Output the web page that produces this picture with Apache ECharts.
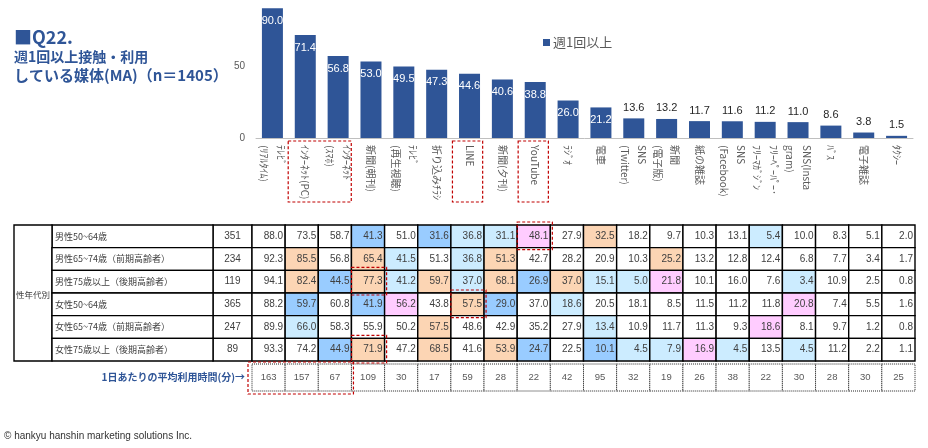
<!DOCTYPE html>
<html>
<head>
<meta charset="utf-8">
<title>Q22. 週1回以上接触・利用している媒体</title>
<script src="https://cdn.jsdelivr.net/npm/echarts@6/dist/echarts.min.js"></script>
<style>
html, body { margin: 0; padding: 0; background: #fff; }
#main { width: 928px; height: 448px; }
</style>
</head>
<body>
<div id="main"></div>
<script>
// 媒体（棒グラフの並び順）
var categories = ['ﾃﾚﾋﾞ\n(ﾘｱﾙﾀｲﾑ)', 'ｲﾝﾀｰﾈｯﾄ(PC)', 'ｲﾝﾀｰﾈｯﾄ\n(ｽﾏﾎ)', '新聞(朝刊)', 'ﾃﾚﾋﾞ\n(再生視聴)',
    '折り込みﾁﾗｼ', 'LINE', '新聞(夕刊)', 'YouTube', 'ﾗｼﾞｵ', '電車', 'SNS\n(Twitter)', '新聞\n(電子版)',
    '紙の雑誌', 'SNS\n(Facebook)', 'ﾌﾘｰﾍﾟｰﾊﾟｰ･\nﾌﾘｰﾏｶﾞｼﾞﾝ', 'SNS(Insta\ngram)', 'ﾊﾞｽ', '電子雑誌', 'ﾀｸｼｰ'];
// 週1回以上 (%)
var weeklyRate = [90.0, 71.4, 56.8, 53.0, 49.5, 47.3, 44.6, 40.6, 38.8, 26.0, 21.2, 13.6, 13.2, 11.7, 11.6, 11.2, 11.0, 8.6, 3.8, 1.5];

// 性年代別
var segments = ['男性50~64歳', '男性65~74歳（前期高齢者）', '男性75歳以上（後期高齢者）',
    '女性50~64歳', '女性65~74歳（前期高齢者）', '女性75歳以上（後期高齢者）'];
var sampleSizes = [351, 234, 119, 365, 247, 89];
var segmentRates = [
    [88.0, 73.5, 58.7, 41.3, 51.0, 31.6, 36.8, 31.1, 48.1, 27.9, 32.5, 18.2, 9.7, 10.3, 13.1, 5.4, 10.0, 8.3, 5.1, 2.0],
    [92.3, 85.5, 56.8, 65.4, 41.5, 51.3, 36.8, 51.3, 42.7, 28.2, 20.9, 10.3, 25.2, 13.2, 12.8, 12.4, 6.8, 7.7, 3.4, 1.7],
    [94.1, 82.4, 44.5, 77.3, 41.2, 59.7, 37.0, 68.1, 26.9, 37.0, 15.1, 5.0, 21.8, 10.1, 16.0, 7.6, 3.4, 10.9, 2.5, 0.8],
    [88.2, 59.7, 60.8, 41.9, 56.2, 43.8, 57.5, 29.0, 37.0, 18.6, 20.5, 18.1, 8.5, 11.5, 11.2, 11.8, 20.8, 7.4, 5.5, 1.6],
    [89.9, 66.0, 58.3, 55.9, 50.2, 57.5, 48.6, 42.9, 35.2, 27.9, 13.4, 10.9, 11.7, 11.3, 9.3, 18.6, 8.1, 9.7, 1.2, 0.8],
    [93.3, 74.2, 44.9, 71.9, 47.2, 68.5, 41.6, 53.9, 24.7, 22.5, 10.1, 4.5, 7.9, 16.9, 4.5, 13.5, 4.5, 11.2, 2.2, 1.1]
];
// セルの区分: . なし / o 高い / p 特徴的 / l やや低い / b 低い
var segmentMarks = [
    '...b.bllp.o....l....',
    '.o.ol.lo....o.......',
    '.obololobollp...l...',
    '.b.bp.ob.l......p...',
    '.l...o....l....p....',
    '..bo.o.ob.bllpl.l...'
];
// 1日あたりの平均利用時間(分)
var minutesPerDay = [163, 157, 67, 109, 30, 17, 59, 28, 22, 42, 95, 32, 19, 26, 38, 22, 30, 28, 30, 25];

// 赤い点線の囲み
var barBoxes = [[1, 2], [6, 6], [8, 8]];
var cellBoxes = [[8, 0], [3, 2], [6, 3], [3, 5]];
var minuteBoxes = [[0, 2]];

var BLUE = '#2F5597';
var JP = '"Noto Sans CJK JP", sans-serif';
var NUM = '"Liberation Sans Narrow", "Liberation Sans", sans-serif';
var fills = { '.': '#FFFFFF', o: '#FCD5B4', p: '#FFCCFF', l: '#CCECFF', b: '#99CCFF' };
var RED = '#C00000';

var cellData = [];
segmentRates.forEach(function (row, r) {
    row.forEach(function (v, c) {
        cellData.push([c, r, v, segmentMarks[r].charAt(c)]);
    });
});
var segmentData = segments.map(function (name, r) {
    return [0, r, name, sampleSizes[r]];
});
var minuteData = minutesPerDay.map(function (v, c) {
    return [c, 0, v];
});

var barData = weeklyRate.map(function (v) {
    return {
        value: v,
        label: v >= 20
            ? { position: 'insideTop', distance: 7, color: '#fff' }
            : { position: 'top', distance: 5, color: '#262626' }
    };
});

var myChart = echarts.init(document.getElementById('main'));
myChart.setOption({
    animation: false,
    title: {
        left: 14,
        top: 28,
        padding: 0,
        text: '{a|■Q22.}\n{b|週1回以上接触・利用}\n{d|している媒体(MA)}{c|（n＝1405）}',
        textStyle: {
            rich: {
                a: { fontSize: 18, fontWeight: 'bold', color: BLUE, fontFamily: JP, lineHeight: 19 },
                b: { fontSize: 14, fontWeight: 'bold', color: BLUE, fontFamily: JP, lineHeight: 19 },
                d: { fontSize: 15, fontWeight: 'bold', color: BLUE, fontFamily: JP, lineHeight: 19 },
                c: { fontSize: 15, color: BLUE, fontFamily: JP, lineHeight: 19 }
            }
        }
    },
    legend: {
        data: ['週1回以上'],
        left: 538,
        top: 31,
        icon: 'rect',
        itemWidth: 7,
        itemHeight: 7,
        itemGap: 4,
        textStyle: { fontSize: 13, color: '#595959', fontFamily: JP, padding: [0, 0, 0, -2] }
    },
    graphic: [{
        type: 'text',
        left: 4,
        top: 431,
        style: { text: '© hankyu hanshin marketing solutions Inc.', fontSize: 10, fill: '#333', fontFamily: '"Liberation Sans", sans-serif' }
    }],
    grid: [
        { left: 256, right: 15, top: 1, height: 137 },
        { left: 252, right: 13, top: 225, height: 136 },
        { left: 252, right: 13, top: 364, height: 27 }
    ],
    xAxis: [{
        gridIndex: 0,
        type: 'category',
        data: categories,
        axisLine: { lineStyle: { color: '#BFBFBF' } },
        axisTick: { show: false },
        axisLabel: {
            interval: 0, rotate: -90, margin: 7, fontSize: 10, lineHeight: 17,
            color: '#595959', fontFamily: JP
        }
    }, {
        gridIndex: 1, type: 'category', data: categories, show: false
    }, {
        gridIndex: 2, type: 'category', data: categories, show: false
    }],
    yAxis: [{
        gridIndex: 0,
        type: 'value',
        min: 0,
        max: 95,
        interval: 50,
        splitLine: { show: false },
        axisLine: { show: false },
        axisTick: { show: false },
        axisLabel: {
            showMaxLabel: false,
            fontSize: 10, color: '#595959', margin: 11, fontFamily: '"Liberation Sans", sans-serif'
        }
    }, {
        gridIndex: 1, type: 'category', data: segments, inverse: true, show: false
    }, {
        gridIndex: 2,
        type: 'category',
        data: ['1日あたりの平均利用時間(分)→'],
        axisLine: { show: false },
        axisTick: { show: false },
        axisLabel: { fontSize: 10, fontWeight: 'bold', color: BLUE, margin: 7, fontFamily: JP }
    }],
    series: [{
        name: '週1回以上',
        type: 'bar',
        xAxisIndex: 0,
        yAxisIndex: 0,
        barWidth: 21,
        itemStyle: { color: BLUE },
        data: barData,
        label: {
            show: true,
            fontSize: 11,
            fontFamily: '"Liberation Sans", sans-serif',
            formatter: function (p) { return p.value.toFixed(1); }
        }
    }, {
        // 媒体名の赤枠
        type: 'custom',
        xAxisIndex: 0,
        yAxisIndex: 0,
        clip: false,
        z: 5,
        encode: { x: [0, 1] },
        data: barBoxes,
        renderItem: function (params, api) {
            var a = api.coord([api.value(0), 0]);
            var b = api.coord([api.value(1), 0]);
            var w = api.size([1, 0])[0];
            return {
                type: 'rect',
                shape: { x: a[0] - w * 0.52, y: a[1] + 3, width: b[0] - a[0] + w * 0.92, height: 61 },
                style: { fill: 'none', stroke: RED, lineWidth: 1.2, lineDash: [3, 2] }
            };
        }
    }, {
        // 性年代別の見出し・n数
        type: 'custom',
        xAxisIndex: 1,
        yAxisIndex: 1,
        clip: false,
        data: segmentData,
        renderItem: function (params, api) {
            var item = segmentData[params.dataIndex];
            var c = api.coord([0, item[1]]);
            var s = api.size([1, 1]);
            var x0 = c[0] - s[0] / 2;
            var y0 = c[1] - s[1] / 2;
            var line = { stroke: '#000', lineWidth: 1.4 };
            var kids = [
                { type: 'rect', shape: { x: x0 - 39, y: y0, width: 39, height: s[1] }, style: Object.assign({ fill: '#fff' }, line) },
                { type: 'rect', shape: { x: x0 - 200, y: y0, width: 161, height: s[1] }, style: Object.assign({ fill: '#fff' }, line) },
                { type: 'text', style: { text: String(item[3]), x: x0 - 19.5, y: c[1], align: 'center', verticalAlign: 'middle', fill: '#404040', fontSize: 10, fontFamily: NUM } },
                { type: 'text', style: { text: item[2], x: x0 - 197, y: c[1], align: 'left', verticalAlign: 'middle', fill: '#404040', fontSize: 9, fontFamily: JP } }
            ];
            if (item[1] === 0) {
                var h = s[1] * segments.length;
                kids.push(
                    { type: 'rect', shape: { x: x0 - 238, y: y0, width: 38, height: h }, style: Object.assign({ fill: '#fff' }, line) },
                    { type: 'text', style: { text: '性年代別', x: x0 - 219, y: y0 + h / 2 + 2, align: 'center', verticalAlign: 'middle', fill: '#404040', fontSize: 8.5, fontFamily: JP } }
                );
            }
            return { type: 'group', children: kids };
        }
    }, {
        // 性年代別の接触率
        type: 'custom',
        xAxisIndex: 1,
        yAxisIndex: 1,
        clip: false,
        data: cellData,
        renderItem: function (params, api) {
            var item = cellData[params.dataIndex];
            var c = api.coord([item[0], item[1]]);
            var s = api.size([1, 1]);
            var x = c[0] - s[0] / 2;
            var y = c[1] - s[1] / 2;
            return {
                type: 'group',
                children: [
                    { type: 'rect', shape: { x: x, y: y, width: s[0], height: s[1] }, style: { fill: fills[item[3]], stroke: '#000', lineWidth: 1.4 } },
                    { type: 'text', style: { text: item[2].toFixed(1), x: x + s[0] - 2, y: c[1], align: 'right', verticalAlign: 'middle', fill: '#404040', fontSize: 10, fontFamily: NUM } }
                ]
            };
        }
    }, {
        // 表の赤枠
        type: 'custom',
        xAxisIndex: 1,
        yAxisIndex: 1,
        clip: false,
        z: 5,
        data: cellBoxes,
        renderItem: function (params, api) {
            var c = api.coord([api.value(0), api.value(1)]);
            var s = api.size([1, 1]);
            return {
                type: 'rect',
                shape: { x: c[0] - s[0] / 2, y: c[1] - s[1] / 2 - 3, width: s[0] + 2, height: s[1] + 5 },
                style: { fill: 'none', stroke: RED, lineWidth: 1.2, lineDash: [3, 2] }
            };
        }
    }, {
        // 平均利用時間
        type: 'custom',
        xAxisIndex: 2,
        yAxisIndex: 2,
        clip: false,
        data: minuteData,
        renderItem: function (params, api) {
            var item = minuteData[params.dataIndex];
            var c = api.coord([item[0], 0]);
            var s = api.size([1, 1]);
            var x = c[0] - s[0] / 2;
            var y = c[1] - s[1] / 2;
            return {
                type: 'group',
                children: [
                    { type: 'rect', shape: { x: x, y: y, width: s[0], height: s[1] }, style: { fill: '#fff', stroke: '#222', lineWidth: 1, lineDash: [1, 1] } },
                    { type: 'text', style: { text: String(item[2]), x: c[0], y: c[1], align: 'center', verticalAlign: 'middle', fill: '#595959', fontSize: 9.5, fontFamily: NUM } }
                ]
            };
        }
    }, {
        // 平均利用時間の赤枠
        type: 'custom',
        xAxisIndex: 2,
        yAxisIndex: 2,
        clip: false,
        z: 5,
        encode: { x: [0, 1] },
        data: minuteBoxes,
        renderItem: function (params, api) {
            var a = api.coord([api.value(0), 0]);
            var b = api.coord([api.value(1), 0]);
            var s = api.size([1, 1]);
            return {
                type: 'rect',
                shape: { x: a[0] - s[0] / 2 - 4, y: a[1] - s[1] / 2 - 2, width: b[0] - a[0] + s[0] + 6, height: s[1] + 5 },
                style: { fill: 'none', stroke: RED, lineWidth: 1.2, lineDash: [3, 2] }
            };
        }
    }]
});
</script>
</body>
</html>
